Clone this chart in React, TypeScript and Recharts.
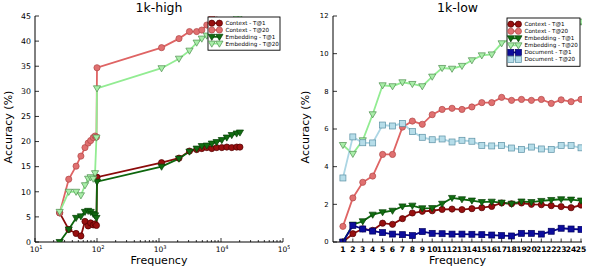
import React from 'react';
import { LineChart, Line, XAxis, YAxis } from 'recharts';

const FONT = '"DejaVu Sans", Verdana, sans-serif';

// ---------------- 1k-high (log frequency axis) ----------------
const freqHigh = [25, 35, 46, 55, 64, 72, 79, 87, 93, 98, 100, 1100, 2100, 3100, 4050, 4900, 5900, 7100, 8500, 10300, 12400, 14900, 17900, 20200];
const contextT1High = [5.8, 2.5, 1.7, 1.2, 4.1, 3.2, 3.8, 3.4, 3.6, 3.3, 12.9, 15.8, 16.7, 18.1, 18.4, 18.6, 18.8, 18.6, 18.8, 18.8, 18.9, 18.8, 18.9, 18.9];
const contextT20High = [5.8, 12.5, 15.1, 17.1, 18.8, 19.7, 20.2, 20.8, 21.1, 20.9, 34.7, 38.7, 40.5, 41.9, 41.9, 42.2, 43.2, 44.7, 45.6, 46.2, 46.8, 47.2, 47.6, 48.0];
const embeddingT1High = [0.0, 2.5, 4.8, 5.1, 6.0, 6.2, 6.0, 5.6, 5.3, 4.8, 12.0, 15.0, 16.6, 18.0, 18.6, 19.1, 19.2, 19.6, 19.9, 20.3, 20.8, 21.3, 21.6, 21.8];
const embeddingT20High = [6.0, 10.0, 10.0, 9.3, 11.3, 12.6, 12.9, 12.6, 13.7, 20.8, 30.6, 34.6, 36.5, 38.1, 39.7, 40.5, 41.1, 41.8, 42.5, 43.1, 43.7, 44.2, 44.6, 45.0];
const highMajorTicks = [10, 100, 1000, 10000, 100000];
const highMinorTicks = [20, 30, 40, 50, 60, 70, 80, 90, 200, 300, 400, 500, 600, 700, 800, 900, 2000, 3000, 4000, 5000, 6000, 7000, 8000, 9000, 20000, 30000, 40000, 50000, 60000, 70000, 80000, 90000];
const highYTicks = [0, 5, 10, 15, 20, 25, 30, 35, 40, 45];

// ---------------- 1k-low (linear frequency axis) ----------------
const freqLow = [1, 2, 3, 4, 5, 6, 7, 8, 9, 10, 11, 12, 13, 14, 15, 16, 17, 18, 19, 20, 21, 22, 23, 24, 25];
const contextT1Low = [0.0, 0.44, 0.7, 0.62, 1.0, 0.94, 1.24, 1.54, 1.63, 1.66, 1.73, 1.75, 1.72, 1.77, 1.82, 1.89, 2.07, 2.03, 2.07, 2.0, 1.98, 1.93, 1.88, 1.82, 1.96];
const contextT20Low = [0.83, 2.34, 3.17, 3.5, 4.65, 4.65, 6.1, 6.42, 6.25, 6.76, 7.04, 7.1, 7.04, 7.17, 7.4, 7.4, 7.68, 7.52, 7.57, 7.52, 7.57, 7.36, 7.55, 7.45, 7.57];
const embeddingT1Low = [0.0, 0.92, 1.1, 1.45, 1.58, 1.66, 1.89, 1.93, 1.79, 1.8, 2.03, 2.34, 2.27, 2.2, 2.12, 2.14, 2.09, 2.03, 2.15, 2.12, 2.18, 2.23, 2.27, 2.25, 2.2];
const embeddingT20Low = [5.15, 4.68, 5.4, 6.78, 8.32, 8.27, 8.48, 8.39, 8.27, 8.78, 9.24, 9.2, 9.35, 9.65, 9.91, 9.96, 10.55, 10.8, 11.0, 11.2, 11.3, 11.4, 11.5, 11.6, 11.7];
const documentT1Low = [0.0, 0.88, 0.69, 0.58, 0.5, 0.42, 0.39, 0.34, 0.55, 0.46, 0.44, 0.42, 0.42, 0.41, 0.39, 0.37, 0.34, 0.32, 0.46, 0.46, 0.42, 0.57, 0.73, 0.69, 0.67];
const documentT20Low = [3.4, 5.58, 5.27, 5.26, 6.21, 6.16, 6.3, 5.86, 5.56, 5.43, 5.47, 5.31, 5.4, 5.35, 5.13, 5.1, 5.13, 4.99, 4.92, 5.04, 4.94, 4.92, 5.13, 5.12, 5.0];
const lowYTicks = [0, 2, 4, 6, 8, 10, 12];

type Shape = 'circle' | 'tri' | 'square';
interface Style { name: string; line: string; fill: string; edge: string; shape: Shape; }

const S: Record<string, Style> = {
  ctxT1: { name: 'Context - T@1', line: '#8b0a0a', fill: '#981010', edge: '#520000', shape: 'circle' },
  ctxT20: { name: 'Context - T@20', line: '#df6464', fill: '#e07070', edge: '#b04848', shape: 'circle' },
  embT1: { name: 'Embedding - T@1', line: '#0d660d', fill: '#116c11', edge: '#064006', shape: 'tri' },
  embT20: { name: 'Embedding - T@20', line: '#92ec92', fill: '#a8eea8', edge: '#4e8e4e', shape: 'tri' },
  docT1: { name: 'Document - T@1', line: '#06068e', fill: '#0c0c9c', edge: '#00005e', shape: 'square' },
  docT20: { name: 'Document - T@20', line: '#acd6e4', fill: '#b6dde9', edge: '#5b90a4', shape: 'square' },
};

const toData = (xs: number[], ys: number[]) => xs.map((x, i) => ({ x, v: ys[i] }));

function marker(st: Style, cx: number, cy: number, key: string | number) {
  if (st.shape === 'circle') {
    return <circle key={key} cx={cx} cy={cy} r={3.1} fill={st.fill} stroke={st.edge} strokeWidth={0.7} />;
  }
  if (st.shape === 'tri') {
    const s = 3.6;
    return (
      <path key={key} d={`M${cx - s},${cy - s * 0.7} L${cx + s},${cy - s * 0.7} L${cx},${cy + s} Z`}
        fill={st.fill} stroke={st.edge} strokeWidth={0.7} />
    );
  }
  return <rect key={key} x={cx - 3} y={cy - 3} width={6} height={6} fill={st.fill} stroke={st.edge} strokeWidth={0.7} />;
}

const dotFor = (st: Style) => (p: any) => {
  if (p.cx == null || p.cy == null) return <g key={`e${p.index}`} />;
  return marker(st, p.cx, p.cy, `d${p.index}`);
};

function series(st: Style, data: { x: number; v: number }[]) {
  return (
    <Line key={st.name} data={data} dataKey="v" name={st.name} type="linear" stroke={st.line} strokeWidth={1.8}
      dot={dotFor(st)} activeDot={false} isAnimationActive={false} />
  );
}

// ---------- tick renderers ----------
const isPow10 = (v: number) => Math.abs(Math.log10(v) - Math.round(Math.log10(v))) < 1e-9;

const logBottomTick = (props: any) => {
  const { x, y, payload } = props;
  const v = payload.value;
  const major = isPow10(v);
  return (
    <g>
      <line x1={x} x2={x} y1={y} y2={y - (major ? 4 : 2)} stroke="#000" strokeWidth={0.8} />
      {major && (
        <text x={x + 1} y={y + 10.2} textAnchor="middle" fontSize={7.5} fontFamily={FONT} fill="#000">
          10<tspan dy={-2.8} fontSize={5}>{Math.round(Math.log10(v))}</tspan>
        </text>
      )}
    </g>
  );
};
const logTopTick = (props: any) => {
  const { x, y, payload } = props;
  const major = isPow10(payload.value);
  return <line x1={x} x2={x} y1={y} y2={y + (major ? 4 : 2)} stroke="#000" strokeWidth={0.8} />;
};
const linBottomTick = (props: any) => {
  const { x, y, payload } = props;
  return (
    <g>
      <line x1={x} x2={x} y1={y} y2={y - 3.5} stroke="#000" strokeWidth={0.8} />
      <text x={x} y={y + 9.6} textAnchor="middle" fontSize={7.6} fontWeight={600} fontFamily={FONT} fill="#000">
        {payload.value}
      </text>
    </g>
  );
};
const linTopTick = (props: any) => {
  const { x, y } = props;
  return <line x1={x} x2={x} y1={y} y2={y + 3.5} stroke="#000" strokeWidth={0.8} />;
};
const makeLeftTick = (fs: number, gap: number) => (props: any) => {
  const { x, y, payload } = props;
  return (
    <g>
      <line x1={x} x2={x + 4} y1={y} y2={y} stroke="#000" strokeWidth={0.8} />
      <text x={x - gap} y={y + fs * 0.36} textAnchor="end" fontSize={fs} fontFamily={FONT} fill="#000">
        {payload.value}
      </text>
    </g>
  );
};
const rightTick = (props: any) => {
  const { x, y } = props;
  return <line x1={x} x2={x - 4} y1={y} y2={y} stroke="#000" strokeWidth={0.8} />;
};

const xLabel = (cx: number) => ({
  content: () => (
    <text x={cx} y={264} textAnchor="middle" fontSize={11} fontFamily={FONT} fill="#000">Frequency</text>
  ),
});
const yLabel = (lx: number) => ({
  content: () => (
    <text x={lx} y={127} transform={`rotate(-90 ${lx} 127)`} textAnchor="middle" fontSize={11}
      fontFamily={FONT} fill="#000">Accuracy (%)</text>
  ),
});

function LegendBox({ x, y, w, items, step }: { x: number; y: number; w: number; items: Style[]; step: number }) {
  const h = items.length * step + 6;
  return (
    <g>
      <rect x={x} y={y} width={w} height={h} fill="#fff" stroke="#000" strokeWidth={0.9} />
      {items.map((st, i) => {
        const cy = y + 6.2 + i * step;
        return (
          <g key={st.name}>
            <line x1={x + 3.8} x2={x + 11.4} y1={cy} y2={cy} stroke={st.line} strokeWidth={1.8} />
            {marker(st, x + 3.8, cy, 'a')}
            {marker(st, x + 11.4, cy, 'b')}
            <text x={x + 17.5} y={cy + 2} fontSize={5.6} fontFamily={FONT} fill="#000">{st.name}</text>
          </g>
        );
      })}
    </g>
  );
}

export default function App() {
  const hi = {
    c1: toData(freqHigh, contextT1High),
    c20: toData(freqHigh, contextT20High),
    e1: toData(freqHigh, embeddingT1High),
    e20: toData(freqHigh, embeddingT20High),
  };
  const lo = {
    c1: toData(freqLow, contextT1Low),
    c20: toData(freqLow, contextT20Low),
    e1: toData(freqLow, embeddingT1Low),
    e20: toData(freqLow, embeddingT20Low),
    d1: toData(freqLow, documentT1Low),
    d20: toData(freqLow, documentT20Low),
  };
  const highTicks = [...highMajorTicks, ...highMinorTicks].sort((a, b) => a - b);

  return (
    <div style={{ position: 'absolute', left: 0, top: 0, width: 590, height: 273, background: '#fff', overflow: 'hidden' }}>
      <div style={{ position: 'absolute', left: 0, top: 0 }}>
        <LineChart width={290} height={273} margin={{ top: 16, right: 7, bottom: 0, left: 5 }}>
          <XAxis dataKey="x" type="number" scale="log" domain={[10, 100000]} allowDataOverflow ticks={highTicks}
            interval={0} height={31} tickSize={0} tickMargin={0} tickLine={false} tick={logBottomTick}
            axisLine={{ stroke: '#000', strokeWidth: 1 }} label={xLabel(159)} />
          <XAxis xAxisId="top" orientation="top" dataKey="x" type="number" scale="log" domain={[10, 100000]}
            allowDataOverflow ticks={highTicks} interval={0} height={0} tickSize={0} tickMargin={0} tickLine={false}
            tick={logTopTick} axisLine={{ stroke: '#000', strokeWidth: 1 }} />
          <YAxis type="number" domain={[0, 45]} allowDataOverflow ticks={highYTicks} interval={0} width={30}
            tickSize={0} tickMargin={0} tickLine={false} tick={makeLeftTick(7.8, 4)}
            axisLine={{ stroke: '#000', strokeWidth: 1 }} label={yLabel(12)} />
          <YAxis yAxisId="right" orientation="right" type="number" domain={[0, 45]} ticks={highYTicks} interval={0}
            width={0} tickSize={0} tickMargin={0} tickLine={false} tick={rightTick}
            axisLine={{ stroke: '#000', strokeWidth: 1 }} />
          {series(S.ctxT1, hi.c1)}
          {series(S.ctxT20, hi.c20)}
          {series(S.embT1, hi.e1)}
          {series(S.embT20, hi.e20)}
        </LineChart>
      </div>
      <div style={{ position: 'absolute', left: 295, top: 0 }}>
        <LineChart width={295} height={273} margin={{ top: 16, right: 8, bottom: 0, left: 5 }}>
          <XAxis dataKey="x" type="number" domain={[0, 25.1]} allowDataOverflow ticks={freqLow} interval={0}
            height={31} tickSize={0} tickMargin={0} tickLine={false} tick={linBottomTick}
            axisLine={{ stroke: '#000', strokeWidth: 1 }} label={xLabel(162.5)} />
          <XAxis xAxisId="top" orientation="top" dataKey="x" type="number" domain={[0, 25.1]} allowDataOverflow
            ticks={freqLow} interval={0} height={0} tickSize={0} tickMargin={0} tickLine={false} tick={linTopTick}
            axisLine={{ stroke: '#000', strokeWidth: 1 }} />
          <YAxis type="number" domain={[0, 12]} allowDataOverflow ticks={lowYTicks} interval={0} width={33}
            tickSize={0} tickMargin={0} tickLine={false} tick={makeLeftTick(6.8, 4.5)}
            axisLine={{ stroke: '#000', strokeWidth: 1 }} label={yLabel(14)} />
          <YAxis yAxisId="right" orientation="right" type="number" domain={[0, 12]} ticks={lowYTicks} interval={0}
            width={0} tickSize={0} tickMargin={0} tickLine={false} tick={rightTick}
            axisLine={{ stroke: '#000', strokeWidth: 1 }} />
          {series(S.ctxT1, lo.c1)}
          {series(S.ctxT20, lo.c20)}
          {series(S.embT1, lo.e1)}
          {series(S.embT20, lo.e20)}
          {series(S.docT1, lo.d1)}
          {series(S.docT20, lo.d20)}
        </LineChart>
      </div>
      <svg width={590} height={273} style={{ position: 'absolute', left: 0, top: 0, pointerEvents: 'none' }}>
        <text x={159} y={12} textAnchor="middle" fontSize={12.5} fontFamily={FONT} fill="#000">1k-high</text>
        <text x={457.5} y={12} textAnchor="middle" fontSize={12.5} fontFamily={FONT} fill="#000">1k-low</text>
        <LegendBox x={208} y={17} w={72} step={6.8} items={[S.ctxT1, S.ctxT20, S.embT1, S.embT20]} />
        <LegendBox x={507} y={18} w={73} step={7.05} items={[S.ctxT1, S.ctxT20, S.embT1, S.embT20, S.docT1, S.docT20]} />
      </svg>
    </div>
  );
}
